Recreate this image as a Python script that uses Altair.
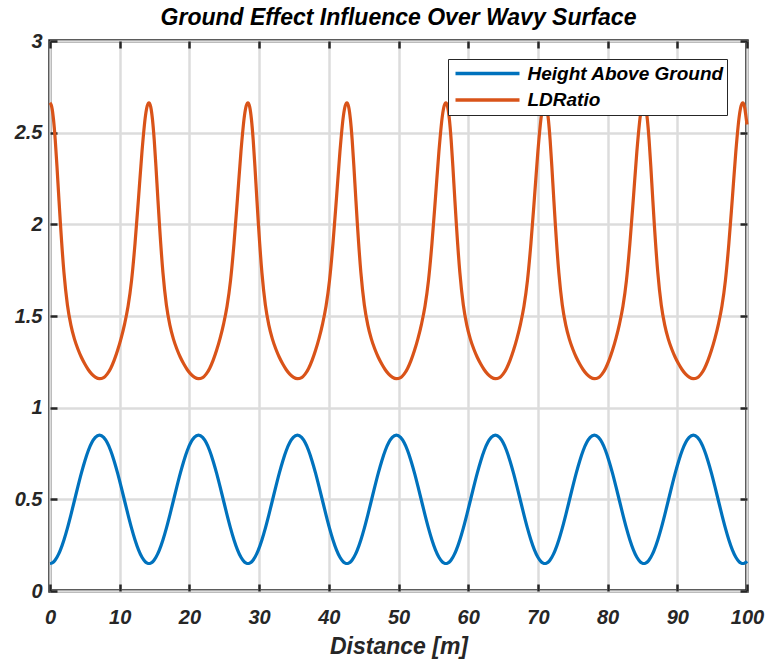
import altair as alt
import pandas as pd

# Sample positions along the track [m], one row per wave of the ground
distance = [
    0.0, 0.25, 0.5, 0.75, 1.0, 1.25, 1.5, 2.0, 2.5, 3.0, 3.5, 4.0, 4.5, 5.0, 5.5, 6.0, 6.5, 7.1,
    7.7, 8.2, 8.7, 9.2, 9.7, 10.2, 10.7, 11.2, 11.7, 12.2, 12.7, 13.2, 13.7, 13.95,
    14.2, 14.45, 14.7, 14.95, 15.2, 15.45, 15.7, 16.2, 16.7, 17.2, 17.7, 18.2, 18.7, 19.2, 19.7, 20.2, 20.7, 21.3,
    21.9, 22.4, 22.9, 23.4, 23.9, 24.4, 24.9, 25.4, 25.9, 26.4, 26.9, 27.4, 27.9, 28.15,
    28.4, 28.65, 28.9, 29.15, 29.4, 29.65, 29.9, 30.4, 30.9, 31.4, 31.9, 32.4, 32.9, 33.4, 33.9, 34.4, 34.9, 35.5,
    36.1, 36.6, 37.1, 37.6, 38.1, 38.6, 39.1, 39.6, 40.1, 40.6, 41.1, 41.6, 42.1, 42.35,
    42.6, 42.85, 43.1, 43.35, 43.6, 43.85, 44.1, 44.6, 45.1, 45.6, 46.1, 46.6, 47.1, 47.6, 48.1, 48.6, 49.1, 49.7,
    50.3, 50.8, 51.3, 51.8, 52.3, 52.8, 53.3, 53.8, 54.3, 54.8, 55.3, 55.8, 56.3, 56.55,
    56.8, 57.05, 57.3, 57.55, 57.8, 58.05, 58.3, 58.8, 59.3, 59.8, 60.3, 60.8, 61.3, 61.8, 62.3, 62.8, 63.3, 63.9,
    64.5, 65.0, 65.5, 66.0, 66.5, 67.0, 67.5, 68.0, 68.5, 69.0, 69.5, 70.0, 70.5, 70.75,
    71.0, 71.25, 71.5, 71.75, 72.0, 72.25, 72.5, 73.0, 73.5, 74.0, 74.5, 75.0, 75.5, 76.0, 76.5, 77.0, 77.5, 78.1,
    78.7, 79.2, 79.7, 80.2, 80.7, 81.2, 81.7, 82.2, 82.7, 83.2, 83.7, 84.2, 84.7, 84.95,
    85.2, 85.45, 85.7, 85.95, 86.2, 86.45, 86.7, 87.2, 87.7, 88.2, 88.7, 89.2, 89.7, 90.2, 90.7, 91.2, 91.7, 92.3,
    92.9, 93.4, 93.9, 94.4, 94.9, 95.4, 95.9, 96.4, 96.9, 97.4, 97.9, 98.4, 98.9, 99.15,
    99.4, 99.65, 99.9, 100.0,
]

# Height of the vehicle above the wavy ground [m]
height_above_ground = [
    0.15, 0.1521, 0.1585, 0.1691, 0.1837, 0.2022, 0.2243, 0.2783, 0.3432, 0.4156, 0.4923, 0.5692, 0.6428, 0.7095, 0.7664, 0.8095, 0.8377, 0.85,
    0.8377, 0.8095, 0.7664, 0.7095, 0.6428, 0.5692, 0.4923, 0.4156, 0.3432, 0.2783, 0.2243, 0.1837, 0.1585, 0.1521,
    0.15, 0.1521, 0.1585, 0.1691, 0.1837, 0.2022, 0.2243, 0.2783, 0.3432, 0.4156, 0.4923, 0.5692, 0.6428, 0.7095, 0.7664, 0.8095, 0.8377, 0.85,
    0.8377, 0.8095, 0.7664, 0.7095, 0.6428, 0.5692, 0.4923, 0.4156, 0.3432, 0.2783, 0.2243, 0.1837, 0.1585, 0.1521,
    0.15, 0.1521, 0.1585, 0.1691, 0.1837, 0.2022, 0.2243, 0.2783, 0.3432, 0.4156, 0.4923, 0.5692, 0.6428, 0.7095, 0.7664, 0.8095, 0.8377, 0.85,
    0.8377, 0.8095, 0.7664, 0.7095, 0.6428, 0.5692, 0.4923, 0.4156, 0.3432, 0.2783, 0.2243, 0.1837, 0.1585, 0.1521,
    0.15, 0.1521, 0.1585, 0.1691, 0.1837, 0.2022, 0.2243, 0.2783, 0.3432, 0.4156, 0.4923, 0.5692, 0.6428, 0.7095, 0.7664, 0.8095, 0.8377, 0.85,
    0.8377, 0.8095, 0.7664, 0.7095, 0.6428, 0.5692, 0.4923, 0.4156, 0.3432, 0.2783, 0.2243, 0.1837, 0.1585, 0.1521,
    0.15, 0.1521, 0.1585, 0.1691, 0.1837, 0.2022, 0.2243, 0.2783, 0.3432, 0.4156, 0.4923, 0.5692, 0.6428, 0.7095, 0.7664, 0.8095, 0.8377, 0.85,
    0.8377, 0.8095, 0.7664, 0.7095, 0.6428, 0.5692, 0.4923, 0.4156, 0.3432, 0.2783, 0.2243, 0.1837, 0.1585, 0.1521,
    0.15, 0.1521, 0.1585, 0.1691, 0.1837, 0.2022, 0.2243, 0.2783, 0.3432, 0.4156, 0.4923, 0.5692, 0.6428, 0.7095, 0.7664, 0.8095, 0.8377, 0.85,
    0.8377, 0.8095, 0.7664, 0.7095, 0.6428, 0.5692, 0.4923, 0.4156, 0.3432, 0.2783, 0.2243, 0.1837, 0.1585, 0.1521,
    0.15, 0.1521, 0.1585, 0.1691, 0.1837, 0.2022, 0.2243, 0.2783, 0.3432, 0.4156, 0.4923, 0.5692, 0.6428, 0.7095, 0.7664, 0.8095, 0.8377, 0.85,
    0.8377, 0.8095, 0.7664, 0.7095, 0.6428, 0.5692, 0.4923, 0.4156, 0.3432, 0.2783, 0.2243, 0.1837, 0.1585, 0.1521,
    0.15, 0.1521, 0.1585, 0.1623,
]

# Lift-to-drag ratio along the track
ld_ratio = [
    2.663, 2.641, 2.573, 2.462, 2.316, 2.156, 2.001, 1.738, 1.56, 1.45, 1.375, 1.32, 1.275, 1.238, 1.207, 1.183, 1.167, 1.158,
    1.164, 1.183, 1.214, 1.258, 1.313, 1.378, 1.456, 1.553, 1.693, 1.896, 2.143, 2.398, 2.593, 2.646,
    2.663, 2.641, 2.573, 2.462, 2.316, 2.156, 2.001, 1.738, 1.56, 1.45, 1.375, 1.32, 1.275, 1.238, 1.207, 1.183, 1.167, 1.158,
    1.164, 1.183, 1.214, 1.258, 1.313, 1.378, 1.456, 1.553, 1.693, 1.896, 2.143, 2.398, 2.593, 2.646,
    2.663, 2.641, 2.573, 2.462, 2.316, 2.156, 2.001, 1.738, 1.56, 1.45, 1.375, 1.32, 1.275, 1.238, 1.207, 1.183, 1.167, 1.158,
    1.164, 1.183, 1.214, 1.258, 1.313, 1.378, 1.456, 1.553, 1.693, 1.896, 2.143, 2.398, 2.593, 2.646,
    2.663, 2.641, 2.573, 2.462, 2.316, 2.156, 2.001, 1.738, 1.56, 1.45, 1.375, 1.32, 1.275, 1.238, 1.207, 1.183, 1.167, 1.158,
    1.164, 1.183, 1.214, 1.258, 1.313, 1.378, 1.456, 1.553, 1.693, 1.896, 2.143, 2.398, 2.593, 2.646,
    2.663, 2.641, 2.573, 2.462, 2.316, 2.156, 2.001, 1.738, 1.56, 1.45, 1.375, 1.32, 1.275, 1.238, 1.207, 1.183, 1.167, 1.158,
    1.164, 1.183, 1.214, 1.258, 1.313, 1.378, 1.456, 1.553, 1.693, 1.896, 2.143, 2.398, 2.593, 2.646,
    2.663, 2.641, 2.573, 2.462, 2.316, 2.156, 2.001, 1.738, 1.56, 1.45, 1.375, 1.32, 1.275, 1.238, 1.207, 1.183, 1.167, 1.158,
    1.164, 1.183, 1.214, 1.258, 1.313, 1.378, 1.456, 1.553, 1.693, 1.896, 2.143, 2.398, 2.593, 2.646,
    2.663, 2.641, 2.573, 2.462, 2.316, 2.156, 2.001, 1.738, 1.56, 1.45, 1.375, 1.32, 1.275, 1.238, 1.207, 1.183, 1.167, 1.158,
    1.164, 1.183, 1.214, 1.258, 1.313, 1.378, 1.456, 1.553, 1.693, 1.896, 2.143, 2.398, 2.593, 2.646,
    2.663, 2.641, 2.573, 2.545,
]

series_names = ["Height Above Ground", "LDRatio"]
series_colors = ["#0072BD", "#D95319"]
x_ticks = [0, 10, 20, 30, 40, 50, 60, 70, 80, 90, 100]
y_ticks = [0, 0.5, 1, 1.5, 2, 2.5, 3]

df = pd.concat([
    pd.DataFrame({"Distance": distance, "Value": height_above_ground, "Series": series_names[0]}),
    pd.DataFrame({"Distance": distance, "Value": ld_ratio, "Series": series_names[1]}),
])

FONT = "Liberation Sans"
INK = "#262626"
TICK_LEN = 7

x_scale = alt.Scale(domain=[0, 100], nice=False, zero=False)
y_scale = alt.Scale(domain=[0, 3], nice=False, zero=False)

label_style = dict(
    labelFont=FONT, labelFontSize=20, labelFontStyle="italic",
    labelFontWeight="bold", labelColor=INK, labelFlush=False,
)

x_bottom = alt.Axis(
    orient="bottom", values=x_ticks, format="d", domain=False,
    offset=-TICK_LEN, tickSize=TICK_LEN, tickWidth=2.5, tickColor=INK,
    labelPadding=16, grid=True, gridColor="#dcdcdc", gridWidth=2.5,
    title="Distance [m]", titleFont=FONT, titleFontSize=23,
    titleFontStyle="italic", titleFontWeight="bold", titleColor=INK,
    titlePadding=8, **label_style,
)
y_left = alt.Axis(
    orient="left", values=y_ticks, format=".2~f", domain=False,
    offset=-TICK_LEN, tickSize=TICK_LEN, tickWidth=2.5, tickColor=INK,
    labelPadding=8, grid=True, gridColor="#dcdcdc", gridWidth=2.5,
    title=None, **label_style,
)
x_top = alt.Axis(
    orient="top", values=x_ticks, domain=False, labels=False, grid=False,
    offset=-TICK_LEN, tickSize=TICK_LEN, tickWidth=2.5, tickColor=INK, title=None,
)
y_right = alt.Axis(
    orient="right", values=y_ticks, domain=False, labels=False, grid=False,
    offset=-TICK_LEN, tickSize=TICK_LEN, tickWidth=2.5, tickColor=INK, title=None,
)

legend = alt.Legend(
    title=None, orient="none", legendX=398, legendY=18, direction="vertical",
    fillColor="white", strokeColor=INK, padding=3,
    symbolType="stroke", symbolSize=4096, symbolStrokeWidth=3.5, symbolOffset=2.5,
    clipHeight=23, rowPadding=3.5, labelOffset=6, labelLimit=400,
    labelFont=FONT, labelFontSize=19, labelFontStyle="italic",
    labelFontWeight="bold", labelColor="#000000",
)

lines = alt.Chart(df).mark_line(strokeWidth=3.2, interpolate="monotone").encode(
    x=alt.X("Distance:Q", scale=x_scale, axis=x_bottom),
    y=alt.Y("Value:Q", scale=y_scale, axis=y_left),
    color=alt.Color("Series:N", scale=alt.Scale(domain=series_names, range=series_colors), legend=legend),
    detail="Series:N",
)

# Inward ticks on the top and right edges of the box
frame_ticks = alt.Chart(df).mark_line(strokeOpacity=0).encode(
    x=alt.X("Distance:Q", scale=x_scale, axis=x_top),
    y=alt.Y("Value:Q", scale=y_scale, axis=y_right),
    detail="Series:N",
)

chart = alt.layer(frame_ticks, lines).properties(
    width=697,
    height=550,
    autosize=alt.AutoSizeParams(type="none"),
    padding={"left": 50, "top": 41, "right": 19, "bottom": 70},
    background="white",
    title=alt.TitleParams(
        "Ground Effect Influence Over Wavy Surface",
        font=FONT, fontSize=23, fontStyle="italic", fontWeight="bold",
        color="#000000", anchor="middle", frame="group", offset=1,
    ),
).configure_view(
    stroke=INK, strokeWidth=3.5,
)

chart.save("out.html", embed_options={"renderer": "svg", "actions": False})
